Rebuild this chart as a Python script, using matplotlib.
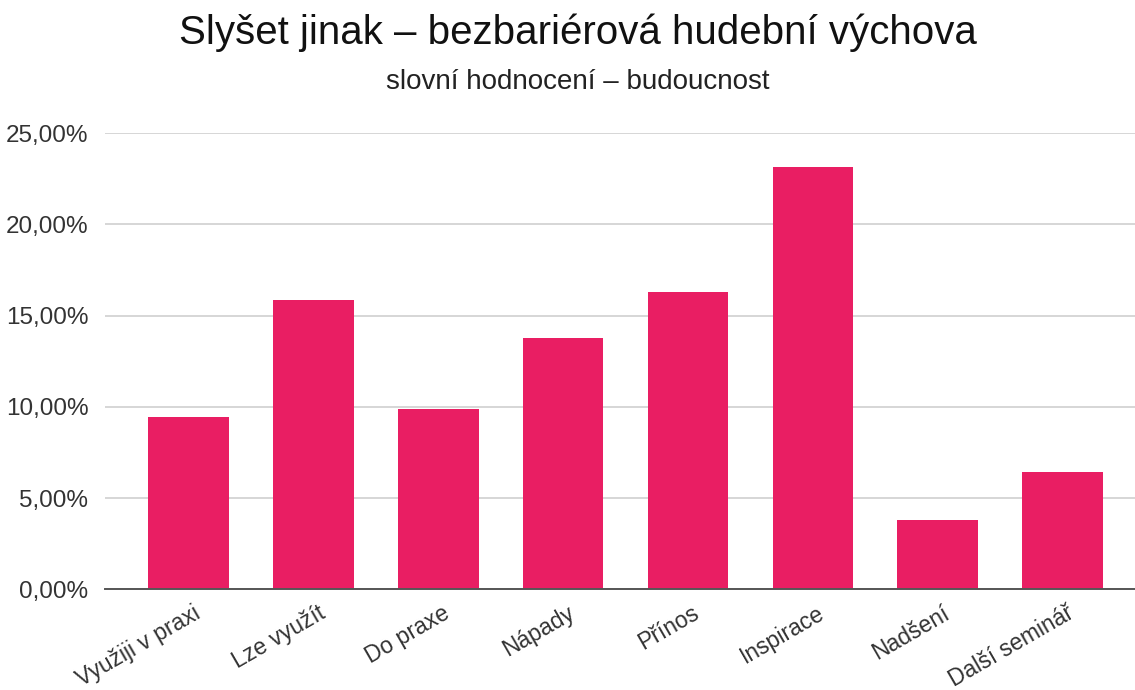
import matplotlib
matplotlib.use("Agg")
import matplotlib.pyplot as plt
from matplotlib.ticker import FuncFormatter
from matplotlib.transforms import ScaledTranslation

categories = ["Využiji v praxi", "Lze využít", "Do praxe", "Nápady", "Přínos",
              "Inspirace", "Nadšení", "Další seminář"]
values = [9.46, 15.86, 9.90, 13.76, 16.30, 23.15, 3.82, 6.45]
yticks = [0, 5, 10, 15, 20, 25]

title = "Slyšet jinak – bezbariérová hudební výchova"
subtitle = "slovní hodnocení – budoucnost"

plt.rcParams['font.family'] = ['Liberation Sans', 'DejaVu Sans']

fig = plt.figure(figsize=(11.35, 6.9), dpi=100)
ax = fig.add_axes([0.0925, 0.146, 0.9075, 0.661])

x = list(range(len(categories)))
ax.bar(x, values, width=0.645, color="#e91e63", zorder=3)

ax.set_xlim(-0.669, 7.58)
ax.set_ylim(0, 25)
ax.set_yticks(yticks)
ax.yaxis.set_major_formatter(FuncFormatter(lambda v, p: f"{v:.2f}".replace(".", ",") + "%"))
ax.grid(axis="y", color="#d3d3d3", linewidth=1.3, zorder=0)
ax.tick_params(axis="y", length=0, pad=12, labelsize=17.5, labelcolor="#333333")
ax.tick_params(axis="x", length=0, pad=9, labelsize=16.5, labelcolor="#333333")
for s in ["top", "right", "left"]:
    ax.spines[s].set_visible(False)
ax.spines["bottom"].set_color("#555555")
ax.spines["bottom"].set_linewidth(1.4)
ax.spines["bottom"].set_zorder(4)

ax.set_xticks(x)
ax.set_xticklabels(categories, rotation=30, ha="right", rotation_mode="anchor")
offset = ScaledTranslation(4 / 100, 0, fig.dpi_scale_trans)
for lbl in ax.get_xticklabels():
    lbl.set_transform(lbl.get_transform() + offset)

fig.text(0.509, 0.952, title, ha="center", va="center", fontsize=29, color="#111111")
fig.text(0.509, 0.881, subtitle, ha="center", va="center", fontsize=20, color="#222222")

fig.savefig("out.png", dpi=100, facecolor="white")
